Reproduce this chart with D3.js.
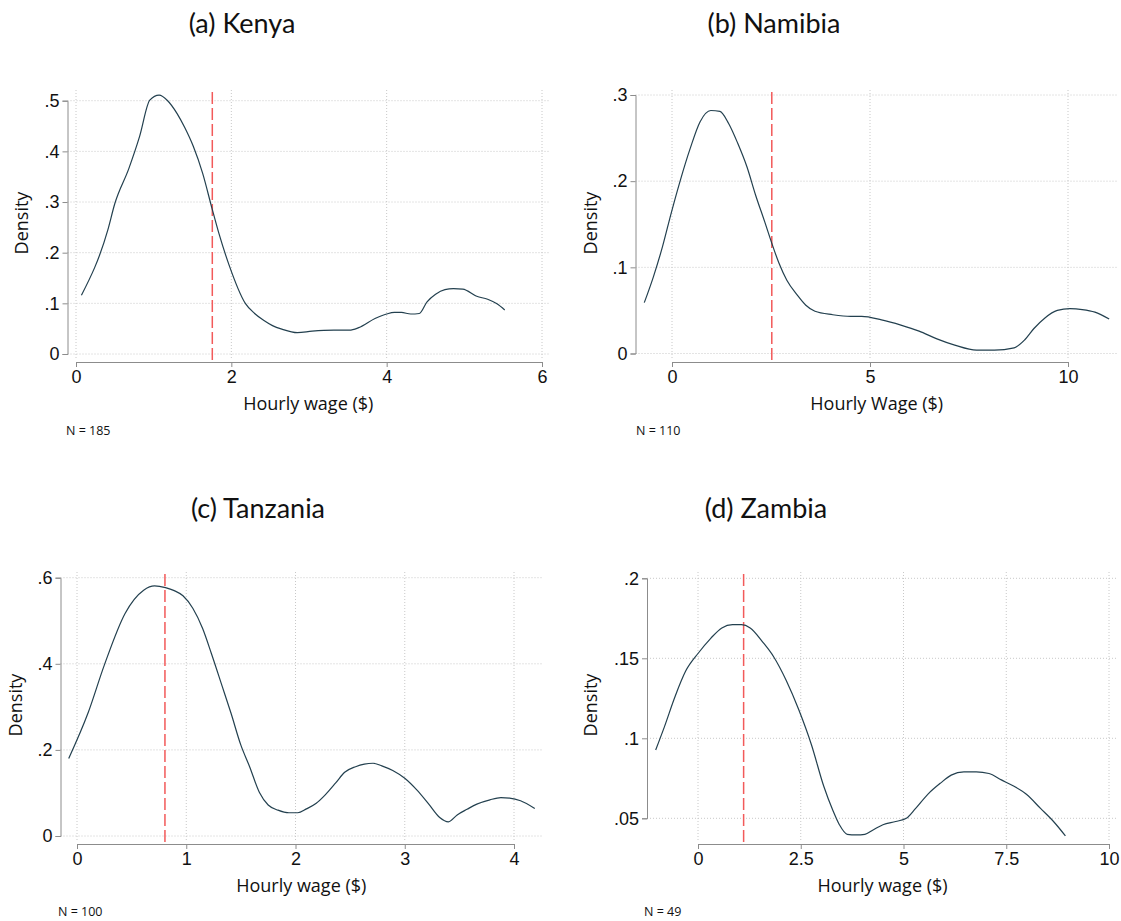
<!DOCTYPE html>
<html>
<head>
<meta charset="utf-8">
<script src="https://cdn.jsdelivr.net/npm/d3@7"></script>
<style>
  body { margin: 0; background: #fff; }
  svg { display: block; font-family: "Open Sans", Lato, sans-serif; }
</style>
</head>
<body>
<div id="chart"></div>
<script>
// Kernel density points (hourly wage in $, density)
const kenyaX = [0.07, 0.41, 0.5, 0.68, 0.82, 0.95, 1.07, 1.18, 1.3, 1.4, 1.51, 1.63, 1.75, 1.84, 1.97, 2.18, 2.3, 2.42, 2.53, 2.65, 2.85, 3.04, 3.32, 3.52, 3.64, 3.85, 4.0, 4.1, 4.19, 4.31, 4.42, 4.52, 4.63, 4.75, 4.86, 4.98, 5.16, 5.3, 5.42, 5.52];
const kenyaY = [0.116, 0.245, 0.297, 0.366, 0.43, 0.501, 0.511, 0.5, 0.475, 0.447, 0.41, 0.357, 0.288, 0.238, 0.176, 0.1, 0.08, 0.066, 0.056, 0.049, 0.042, 0.045, 0.047, 0.047, 0.052, 0.07, 0.079, 0.082, 0.082, 0.079, 0.08, 0.103, 0.118, 0.127, 0.129, 0.128, 0.114, 0.108, 0.099, 0.087];

const namibiaX = [-0.7, -0.47, -0.24, -0.02, 0.21, 0.46, 0.71, 0.98, 1.21, 1.43, 1.66, 1.89, 2.11, 2.34, 2.52, 2.7, 2.9, 3.16, 3.38, 3.61, 4.06, 4.51, 4.79, 5.29, 5.78, 6.24, 6.69, 7.14, 7.69, 8.14, 8.64, 8.91, 9.14, 9.41, 9.73, 10.05, 10.36, 10.68, 11.04];
const namibiaY = [0.059, 0.089, 0.124, 0.163, 0.201, 0.238, 0.269, 0.282, 0.281, 0.267, 0.244, 0.217, 0.184, 0.153, 0.128, 0.105, 0.085, 0.068, 0.056, 0.049, 0.045, 0.043, 0.043, 0.039, 0.033, 0.026, 0.017, 0.0097, 0.0039, 0.0039, 0.0066, 0.016, 0.029, 0.041, 0.05, 0.052, 0.051, 0.048, 0.04];

const tanzaniaX = [-0.076, 0.1, 0.25, 0.44, 0.61, 0.71, 0.81, 0.89, 0.97, 1.06, 1.15, 1.23, 1.33, 1.41, 1.5, 1.58, 1.67, 1.75, 1.84, 1.94, 2.02, 2.1, 2.19, 2.27, 2.37, 2.45, 2.55, 2.63, 2.71, 2.79, 2.89, 3.0, 3.11, 3.22, 3.32, 3.4, 3.48, 3.57, 3.66, 3.78, 3.88, 3.96, 4.06, 4.19];
const tanzaniaY = [0.18, 0.285, 0.397, 0.517, 0.571, 0.581, 0.577, 0.57, 0.558, 0.529, 0.482, 0.424, 0.347, 0.285, 0.211, 0.161, 0.101, 0.072, 0.06, 0.054, 0.054, 0.063, 0.076, 0.095, 0.124, 0.148, 0.161, 0.167, 0.169, 0.163, 0.152, 0.134, 0.107, 0.074, 0.043, 0.033, 0.049, 0.062, 0.074, 0.084, 0.089, 0.088, 0.082, 0.064];

const zambiaX = [-1.03, -0.82, -0.56, -0.3, 0, 0.31, 0.58, 0.84, 1.06, 1.27, 1.58, 1.84, 2.15, 2.45, 2.76, 3.06, 3.28, 3.44, 3.63, 3.85, 4.06, 4.28, 4.5, 4.81, 5.07, 5.29, 5.59, 5.9, 6.16, 6.47, 6.77, 7.08, 7.38, 7.69, 7.99, 8.34, 8.65, 8.94];
const zambiaY = [0.0927, 0.107, 0.126, 0.142, 0.153, 0.1625, 0.169, 0.171, 0.171, 0.169, 0.16, 0.151, 0.136, 0.118, 0.096, 0.07, 0.055, 0.046, 0.04, 0.0396, 0.04, 0.043, 0.046, 0.048, 0.05, 0.056, 0.065, 0.072, 0.077, 0.079, 0.079, 0.078, 0.074, 0.07, 0.065, 0.056, 0.048, 0.039];

// Panel texts and tick values
const panelTitles = ["(a) Kenya", "(b) Namibia", "(c) Tanzania", "(d) Zambia"];
const xTitles = ["Hourly wage ($)", "Hourly Wage ($)", "Hourly wage ($)", "Hourly wage ($)"];
const notes = ["N = 185", "N = 110", "N = 100", "N = 49"];
const xTicks = [[0, 2, 4, 6], [0, 5, 10], [0, 1, 2, 3, 4], [0, 2.5, 5, 7.5, 10]];
const yTicks = [[0, 0.1, 0.2, 0.3, 0.4, 0.5], [0, 0.1, 0.2, 0.3], [0, 0.2, 0.4, 0.6], [0.05, 0.1, 0.15, 0.2]];
const medianLines = [1.755, 2.52, 0.805, 1.11];

// Layout of each panel (pixel boxes)
const panels = [
  { xs: kenyaX, ys: kenyaY, left: 67.5, right: 549, top: 90, bottom: 362,
    xr: [76, 542], yr: [354, 100.7], titleX: 242, titleY: 22, yTitleX: 21, noteX: 66, noteY: 430 },
  { xs: namibiaX, ys: namibiaY, left: 635.5, right: 1118, top: 90, bottom: 362,
    xr: [672, 1068], yr: [353.5, 95], titleX: 774, titleY: 22, yTitleX: 590, noteX: 636, noteY: 430 },
  { xs: tanzaniaX, ys: tanzaniaY, left: 60.5, right: 542, top: 572, bottom: 844,
    xr: [77, 514], yr: [836, 577.7], titleX: 258, titleY: 507, yTitleX: 15, noteX: 58, noteY: 911 },
  { xs: zambiaX, ys: zambiaY, left: 647, right: 1118, top: 572, bottom: 844,
    xr: [698, 1109], yr: [818.3, 578.3], titleX: 766, titleY: 507, yTitleX: 590, noteX: 644, noteY: 911 }
];

const width = 1121, height = 921;
const svg = d3.select("#chart").append("svg")
  .attr("width", width)
  .attr("height", height);

// Stata style tick labels: .5 instead of 0.5
const fmt = d => d === 0 ? "0" : String(d).replace(/^0\./, ".");

panels.forEach((p, i) => {
  const xt = xTicks[i], yt = yTicks[i];
  const x = d3.scaleLinear().domain([xt[0], xt[xt.length - 1]]).range(p.xr);
  const y = d3.scaleLinear().domain([yt[0], yt[yt.length - 1]]).range(p.yr);
  const g = svg.append("g");

  // dotted grid
  g.selectAll(".hgrid").data(yt).enter().append("line")
    .attr("x1", p.left).attr("x2", p.right)
    .attr("y1", d => y(d)).attr("y2", d => y(d))
    .attr("stroke", "#c8c8c8").attr("stroke-width", 1)
    .attr("stroke-dasharray", "1,2");
  g.selectAll(".vgrid").data(xt).enter().append("line")
    .attr("x1", d => x(d)).attr("x2", d => x(d))
    .attr("y1", p.top).attr("y2", p.bottom - 2)
    .attr("stroke", "#c8c8c8").attr("stroke-width", 1)
    .attr("stroke-dasharray", "1,2");

  // axes (line runs from first to last tick only)
  const yAxis = g.append("g")
    .attr("transform", `translate(${p.left},0)`)
    .call(d3.axisLeft(y).tickValues(yt).tickFormat(fmt).tickSize(5).tickPadding(3));
  const xAxis = g.append("g")
    .attr("transform", `translate(0,${p.bottom})`)
    .call(d3.axisBottom(x).tickValues(xt).tickFormat(fmt).tickSize(5).tickPadding(3));
  [yAxis, xAxis].forEach(a => {
    a.selectAll("path, line").attr("stroke", "#8c8c8c");
    a.selectAll("text").attr("fill", "#111").style("font-size", "18px");
  });

  // vertical reference line
  g.append("line")
    .attr("x1", x(medianLines[i])).attr("x2", x(medianLines[i]))
    .attr("y1", p.top + 2).attr("y2", p.bottom - 1)
    .attr("stroke", "#f25a5a").attr("stroke-width", 1.5)
    .attr("stroke-dasharray", "12,4");

  // density curve
  const pts = p.xs.map((v, k) => [v, p.ys[k]]);
  g.append("path")
    .datum(pts)
    .attr("fill", "none")
    .attr("stroke", "#23404f")
    .attr("stroke-width", 1.2)
    .attr("d", d3.line().x(d => x(d[0])).y(d => y(d[1])).curve(d3.curveMonotoneX));

  // texts
  svg.append("text")
    .attr("x", p.titleX).attr("y", p.titleY)
    .attr("text-anchor", "middle").attr("dominant-baseline", "central")
    .style("font-family", "Lato, sans-serif")
    .style("font-size", "27px").attr("fill", "#111")
    .text(panelTitles[i]);
  svg.append("text")
    .attr("x", (p.left + p.right) / 2).attr("y", p.bottom + 41)
    .attr("text-anchor", "middle").attr("dominant-baseline", "central")
    .style("font-size", "18px").attr("fill", "#111")
    .text(xTitles[i]);
  svg.append("text")
    .attr("transform", `translate(${p.yTitleX},${(p.top + p.bottom) / 2 - 3}) rotate(-90)`)
    .attr("text-anchor", "middle").attr("dominant-baseline", "central")
    .style("font-size", "18px").attr("fill", "#111")
    .text("Density");
  svg.append("text")
    .attr("x", p.noteX).attr("y", p.noteY)
    .attr("dominant-baseline", "central")
    .style("font-size", "12.5px").attr("fill", "#111")
    .text(notes[i]);
});
</script>
</body>
</html>
